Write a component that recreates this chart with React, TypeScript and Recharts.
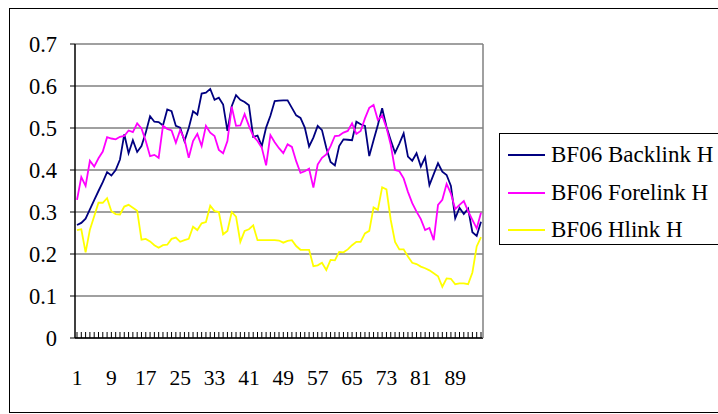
import React from "react";
import { LineChart, Line, XAxis, YAxis, CartesianGrid } from "recharts";

const backlink = [
  0.269, 0.274, 0.284, 0.306, 0.328, 0.35, 0.371, 0.395, 0.387, 0.4,
  0.425, 0.485, 0.44, 0.471, 0.443, 0.457, 0.489, 0.528, 0.515, 0.514,
  0.506, 0.544, 0.54, 0.505, 0.501, 0.469, 0.5, 0.54, 0.532, 0.582,
  0.584, 0.593, 0.567, 0.572, 0.556, 0.493, 0.552, 0.578, 0.567, 0.562,
  0.554, 0.479, 0.482, 0.457, 0.501, 0.529, 0.564, 0.565, 0.566, 0.566,
  0.548, 0.53, 0.524, 0.501, 0.456, 0.477, 0.505, 0.495, 0.453, 0.419,
  0.411, 0.457, 0.473, 0.472, 0.471, 0.515, 0.509, 0.505, 0.433, 0.471,
  0.507, 0.547, 0.503, 0.471, 0.441, 0.463, 0.487, 0.432, 0.422, 0.44,
  0.408, 0.43, 0.364, 0.39, 0.416, 0.396, 0.388, 0.362, 0.285, 0.31,
  0.295, 0.308, 0.252, 0.243, 0.277,
];

const forelink = [
  0.329, 0.383, 0.362, 0.422, 0.408, 0.428, 0.444, 0.478, 0.475, 0.473,
  0.479, 0.481, 0.494, 0.49, 0.511, 0.499, 0.469, 0.433, 0.436, 0.429,
  0.505, 0.498, 0.494, 0.465, 0.495, 0.473, 0.429, 0.469, 0.486, 0.457,
  0.505, 0.489, 0.481, 0.448, 0.44, 0.469, 0.551, 0.505, 0.506, 0.533,
  0.505, 0.481, 0.469, 0.453, 0.411, 0.483, 0.466, 0.452, 0.44, 0.461,
  0.455, 0.421, 0.393, 0.397, 0.403, 0.358, 0.413, 0.429, 0.437, 0.457,
  0.481, 0.482, 0.489, 0.493, 0.511, 0.486, 0.493, 0.523, 0.548, 0.555,
  0.519, 0.53, 0.501, 0.46, 0.4, 0.397, 0.38, 0.348, 0.321, 0.301,
  0.283, 0.257, 0.262, 0.233, 0.317, 0.329, 0.367, 0.344, 0.307, 0.317,
  0.326, 0.302, 0.281, 0.261, 0.298,
];

const hlink = [
  0.257, 0.259, 0.204, 0.258, 0.29, 0.322, 0.322, 0.333, 0.302, 0.295,
  0.294, 0.313, 0.317, 0.31, 0.303, 0.234, 0.236, 0.23, 0.221, 0.215,
  0.221, 0.222, 0.236, 0.239, 0.229, 0.233, 0.236, 0.265, 0.257, 0.273,
  0.276, 0.315, 0.302, 0.3, 0.247, 0.255, 0.3, 0.289, 0.229, 0.255,
  0.259, 0.268, 0.233, 0.233, 0.233, 0.233, 0.233, 0.232, 0.227, 0.231,
  0.233, 0.219, 0.21, 0.21, 0.21, 0.171, 0.173, 0.179, 0.162, 0.186,
  0.185, 0.205, 0.204, 0.211, 0.221, 0.229, 0.229, 0.249, 0.255, 0.311,
  0.305, 0.359, 0.354, 0.281, 0.229, 0.211, 0.211, 0.194, 0.179, 0.176,
  0.17, 0.166, 0.161, 0.154, 0.147, 0.122, 0.142, 0.141, 0.128, 0.13,
  0.13, 0.128, 0.156, 0.218, 0.24,
];

const categories = backlink.map((_, i) => String(i + 1));
const yTicks = [0, 0.1, 0.2, 0.3, 0.4, 0.5, 0.6, 0.7];
const seriesNames = ["BF06 Backlink H", "BF06 Forelink H", "BF06 Hlink H"];
const seriesColors = ["#000080", "#FF00FF", "#FFFF00"];
const labelEvery = 8;

const data = categories.map((c, i) => ({
  cat: c,
  backlink: backlink[i],
  forelink: forelink[i],
  hlink: hlink[i],
}));

const FONT = "'Liberation Serif', 'Times New Roman', serif";

const XTick = (props: any) => {
  const { x, y, payload, index } = props;
  return (
    <g>
      <line x1={x} y1={y} x2={x} y2={y - 6} stroke="#000" strokeWidth={1} />
      {index % labelEvery === 0 && (
        <text x={x} y={y + 47} textAnchor="middle" fontFamily={FONT} fontSize={21.5} fill="#000">
          {payload.value}
        </text>
      )}
    </g>
  );
};

const YTick = (props: any) => {
  const { x, y, payload } = props;
  return (
    <g>
      <line x1={x} y1={y} x2={x - 5} y2={y} stroke="#000" strokeWidth={1} />
      <text x={x - 18} y={y + 7.5} textAnchor="end" fontFamily={FONT} fontSize={22.5} fill="#000">
        {String(payload.value)}
      </text>
    </g>
  );
};

const LegendBox = () => (
  <div
    style={{
      position: "absolute",
      left: 499,
      top: 133,
      width: 240,
      height: 112,
      border: "1px solid #000",
      background: "#fff",
      boxSizing: "border-box",
    }}
  >
    {seriesNames.map((n, i) => (
      <div
        key={n}
        style={{
          position: "absolute",
          left: 8,
          top: 21 + i * 37.5 - 15,
          height: 30,
          display: "flex",
          alignItems: "center",
          whiteSpace: "nowrap",
        }}
      >
        <div style={{ width: 37, height: 2, background: seriesColors[i], marginRight: 6 }} />
        <span style={{ fontFamily: FONT, fontSize: 23, color: "#000" }}>{n}</span>
      </div>
    ))}
  </div>
);

export default function App() {
  return (
    <div style={{ position: "absolute", left: 0, top: 0, width: 718, height: 414, background: "#fff", overflow: "hidden" }}>
      <div
        style={{
          position: "absolute",
          left: 9,
          top: 8,
          width: 718,
          height: 405,
          border: "1px solid #000",
          boxSizing: "border-box",
        }}
      />
      <div style={{ position: "absolute", left: 0, top: 0 }}>
        <LineChart width={718} height={414} data={data} margin={{ top: 44, right: 234, bottom: 0, left: 0 }}>
          <CartesianGrid vertical={false} stroke="#808080" strokeWidth={1.5} />
          <XAxis
            dataKey="cat"
            interval={0}
            tickSize={0}
            tickMargin={0}
            tickLine={false}
            padding={{ left: 2, right: 2 }}
            axisLine={{ stroke: "#000", strokeWidth: 1.5 }}
            tick={<XTick />}
            height={76}
          />
          <YAxis
            domain={[0, 0.7]}
            ticks={yTicks}
            width={75}
            tickSize={0}
            tickMargin={0}
            tickLine={false}
            axisLine={{ stroke: "#000", strokeWidth: 1.5 }}
            tick={<YTick />}
            allowDataOverflow
          />
          <YAxis
            yAxisId="frame"
            orientation="right"
            width={1}
            tick={false}
            tickLine={false}
            axisLine={{ stroke: "#808080", strokeWidth: 1.5 }}
          />
          <Line dataKey="backlink" name={seriesNames[0]} stroke={seriesColors[0]} strokeWidth={1.8} dot={false} isAnimationActive={false} />
          <Line dataKey="forelink" name={seriesNames[1]} stroke={seriesColors[1]} strokeWidth={1.8} dot={false} isAnimationActive={false} />
          <Line dataKey="hlink" name={seriesNames[2]} stroke={seriesColors[2]} strokeWidth={1.8} dot={false} isAnimationActive={false} />
        </LineChart>
      </div>
      <LegendBox />
    </div>
  );
}
